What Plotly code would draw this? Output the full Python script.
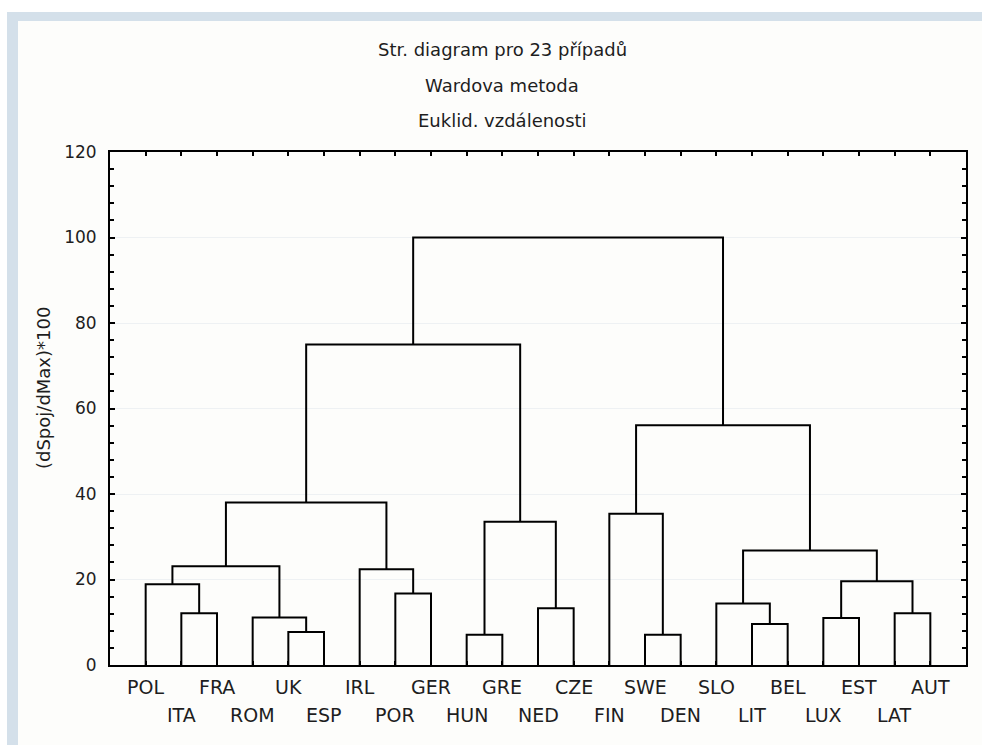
import plotly.graph_objects as go

# Leaf order along the horizontal axis
leaves = ["POL", "ITA", "FRA", "ROM", "UK", "ESP", "IRL", "POR", "GER", "HUN",
          "GRE", "NED", "CZE", "FIN", "SWE", "DEN", "SLO", "LIT", "BEL", "LUX",
          "EST", "LAT", "AUT"]

# Ward agglomeration steps: step k (named "c<k>") joins join_a[k-1] and join_b[k-1]
join_a = ["ITA", "POL", "UK", "ROM", "c2", "POR", "IRL", "c5", "HUN", "NED", "c9",
          "c8", "SWE", "FIN", "LIT", "SLO", "LUX", "LAT", "c17", "c16", "c14", "c12"]
join_b = ["FRA", "c1", "ESP", "c3", "c4", "GER", "c6", "c7", "GRE", "CZE", "c10",
          "c11", "DEN", "c13", "BEL", "c15", "EST", "AUT", "c18", "c19", "c20", "c21"]
join_height = [12.1, 18.9, 7.7, 11.1, 23.1, 16.7, 22.4, 38.0, 7.1, 13.3, 33.5,
               75.0, 7.1, 35.4, 9.6, 14.4, 11.0, 12.1, 19.6, 26.8, 56.1, 100.0]

y_ticks = [0, 20, 40, 60, 80, 100, 120]
titles = ["Str. diagram pro 23 případů", "Wardova metoda", "Euklid. vzdálenosti"]
y_title = "(dSpoj/dMax)*100"

W, H = 982, 745
L, R, T, B = 110, 16, 152, 80
FONT = "DejaVu Sans"
INK = "#1e1e1e"


def px_x(px):
    return (px - L) / (W - L - R)


def px_y(py):
    return (H - B - py) / (H - T - B)


# positions of nodes: leaves at 1..n, clusters at the midpoint of their children
pos = {name: (i + 1, 0.0) for i, name in enumerate(leaves)}
xs, ys = [], []
for k, (a, b, h) in enumerate(zip(join_a, join_b, join_height), start=1):
    xa, ha = pos[a]
    xb, hb = pos[b]
    xs += [xa, xa, xb, xb, None]
    ys += [ha, h, h, hb, None]
    pos[f"c{k}"] = ((xa + xb) / 2, h)

fig = go.Figure(go.Scatter(x=xs, y=ys, mode="lines",
                           line=dict(color="black", width=2),
                           hoverinfo="skip", showlegend=False))

shapes = [
    dict(type="rect", xref="paper", yref="paper",
         x0=px_x(7), x1=px_x(W), y0=px_y(H), y1=px_y(12),
         fillcolor="#d4e0ea", line=dict(width=0), layer="below"),
    dict(type="rect", xref="paper", yref="paper",
         x0=px_x(18), x1=px_x(W), y0=px_y(H), y1=px_y(21),
         fillcolor="#fdfdfb", line=dict(width=0), layer="below"),
]

annotations = []
for i, name in enumerate(leaves):
    row_y = 687 if i % 2 == 0 else 715
    annotations.append(dict(x=i + 1, xref="x", y=px_y(row_y), yref="paper",
                            text=name, showarrow=False, yanchor="middle",
                            xanchor="center",
                            font=dict(family=FONT, size=19, color=INK)))
for j, t in enumerate(titles):
    annotations.append(dict(x=px_x(502), xref="paper", y=px_y(50 + 35 * j),
                            yref="paper", text=t, showarrow=False,
                            xanchor="center", yanchor="middle",
                            font=dict(family=FONT, size=18, color=INK)))
annotations.append(dict(x=px_x(43), xref="paper", y=px_y(388), yref="paper",
                        text=y_title, showarrow=False, textangle=-90,
                        xanchor="center", yanchor="middle",
                        font=dict(family=FONT, size=18, color=INK)))

fig.update_layout(
    width=W, height=H,
    margin=dict(l=L, r=R, t=T, b=B, pad=0),
    paper_bgcolor="white",
    plot_bgcolor="rgba(0,0,0,0)",
    shapes=shapes,
    annotations=annotations,
    xaxis=dict(range=[0, len(leaves) + 1], tickvals=list(range(1, len(leaves) + 1)),
               showticklabels=False, ticks="inside", ticklen=4, tickwidth=2,
               tickcolor="black", showline=True, linecolor="black", linewidth=2,
               mirror="ticks", showgrid=False, zeroline=False, fixedrange=True),
    yaxis=dict(range=[0, 120], tickvals=y_ticks, ticks="inside", ticklen=5,
               tickwidth=2, tickcolor="black", showline=True, linecolor="black",
               linewidth=2, mirror="ticks", showgrid=True, gridcolor="#eef1f3",
               gridwidth=1, zeroline=False, fixedrange=True,
               ticklabelstandoff=8,
               tickfont=dict(family=FONT, size=17, color=INK),
               minor=dict(dtick=4, ticks="inside", ticklen=4, tickwidth=1.5,
                          tickcolor="black", showgrid=False)),
)

fig.write_html("out.html")
